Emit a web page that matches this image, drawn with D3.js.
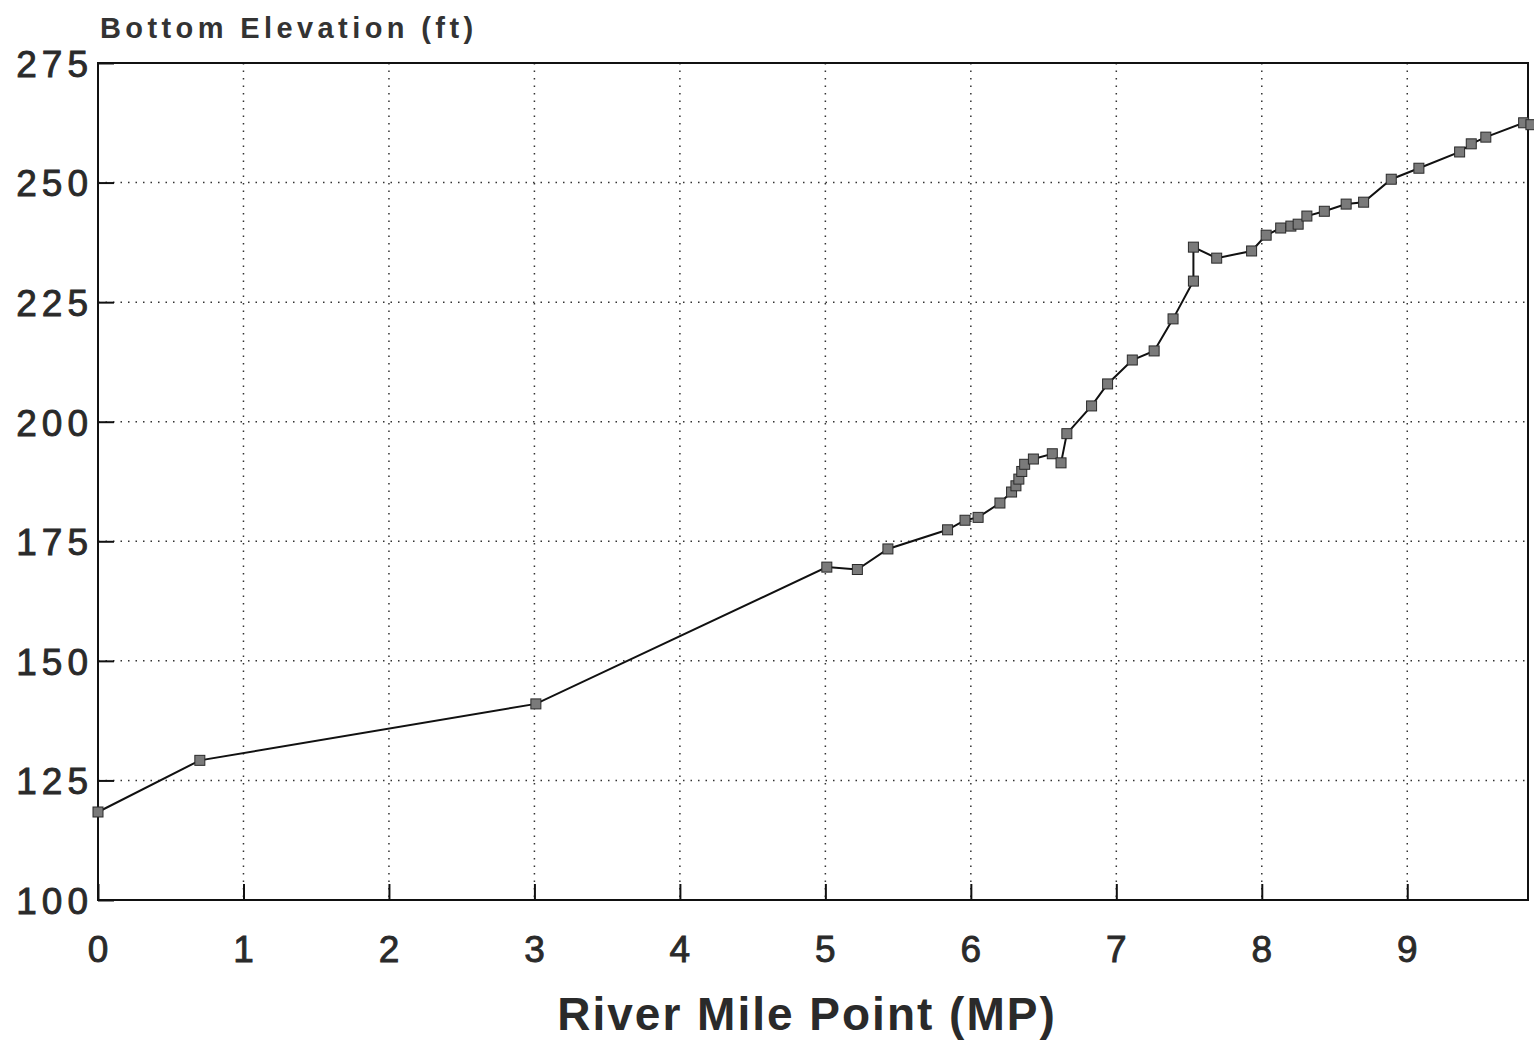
<!DOCTYPE html>
<html>
<head>
<meta charset="utf-8">
<script src="https://cdn.jsdelivr.net/npm/d3@7"></script>
<style>
  body { margin: 0; background: #fff; }
  svg { display: block; }
  .tick text { font-family: "Liberation Sans", Arial, sans-serif; }
</style>
</head>
<body>
<div id="chart"></div>
<script>
// River mile point vs bottom elevation
const mile = [0, 0.70, 3.01, 5.01, 5.22, 5.43, 5.84, 5.96, 6.05, 6.20, 6.28, 6.31, 6.33, 6.35, 6.37,
    6.43, 6.56, 6.62, 6.66, 6.83, 6.94, 7.11, 7.26, 7.39, 7.53, 7.53, 7.69, 7.93, 8.03, 8.13,
    8.20, 8.25, 8.31, 8.43, 8.58, 8.70, 8.89, 9.08, 9.36, 9.44, 9.54, 9.80, 9.85];
const elev = [118.4, 129.2, 141.0, 169.6, 169.1, 173.4, 177.4, 179.4, 180.0, 183.0, 185.3, 186.6, 188.0, 189.6, 191.1,
    192.2, 193.3, 191.4, 197.5, 203.3, 207.9, 212.9, 214.8, 221.5, 229.4, 236.5, 234.2, 235.7, 239.0, 240.5,
    240.9, 241.3, 243.0, 244.0, 245.5, 245.9, 250.7, 253.0, 256.4, 258.1, 259.5, 262.5, 262.1];
const xTicks = [0, 1, 2, 3, 4, 5, 6, 7, 8, 9];
const yTicks = [100, 125, 150, 175, 200, 225, 250, 275];

const data = mile.map((m, i) => ({ mile: m, elev: elev[i] }));

const W = 1534, H = 1042;
const margin = { top: 63, right: 6, bottom: 142, left: 98 };
const width = W - margin.left - margin.right;
const height = H - margin.top - margin.bottom;

const svg = d3.select("#chart").append("svg")
    .attr("width", W)
    .attr("height", H);

const g = svg.append("g")
    .attr("transform", "translate(" + margin.left + "," + margin.top + ")");

const x = d3.scaleLinear().domain([0, 9.83]).range([0, width]);
const y = d3.scaleLinear().domain([100, 275]).range([height, 0]);

// dotted grid
g.append("g")
    .selectAll("line")
    .data(xTicks.filter(d => d > 0))
    .enter().append("line")
    .attr("x1", d => x(d)).attr("x2", d => x(d))
    .attr("y1", 0).attr("y2", height)
    .attr("stroke", "#333")
    .attr("stroke-width", 1.5)
    .attr("stroke-dasharray", "1.5,6");

g.append("g")
    .selectAll("line")
    .data(yTicks.filter(d => d > 100 && d < 275))
    .enter().append("line")
    .attr("x1", 0).attr("x2", width)
    .attr("y1", d => y(d)).attr("y2", d => y(d))
    .attr("stroke", "#333")
    .attr("stroke-width", 1.5)
    .attr("stroke-dasharray", "1.5,6");

// axes with inward ticks
const xAxis = g.append("g")
    .attr("transform", "translate(0," + height + ")")
    .call(d3.axisBottom(x).tickValues(xTicks).tickSizeInner(-16).tickSizeOuter(0).tickPadding(40).tickFormat(d3.format("d")));

const yAxis = g.append("g")
    .call(d3.axisLeft(y).tickValues(yTicks).tickSizeInner(-16).tickSizeOuter(0).tickPadding(5).tickFormat(d3.format("d")));

[xAxis, yAxis].forEach(a => {
    a.select(".domain").remove();
    a.selectAll(".tick line").attr("stroke", "#111").attr("stroke-width", 2);
    a.selectAll(".tick text")
        .attr("fill", "#2a2a2a")
        .attr("stroke", "#2a2a2a")
        .attr("stroke-width", 0.9)
        .style("font-size", "37px")
        .style("letter-spacing", "5px");
});
xAxis.selectAll(".tick text").attr("dy", "0.6em").attr("dx", "2px");
yAxis.selectAll(".tick text").attr("dy", "0.36em");

// frame
g.append("rect")
    .attr("x", 0).attr("y", 0)
    .attr("width", width).attr("height", height)
    .attr("fill", "none")
    .attr("stroke", "#111")
    .attr("stroke-width", 2);

// profile line
const line = d3.line()
    .x(d => x(d.mile))
    .y(d => y(d.elev));

g.append("path")
    .datum(data)
    .attr("fill", "none")
    .attr("stroke", "#111")
    .attr("stroke-width", 2)
    .attr("d", line);

// square markers
g.selectAll("rect.pt")
    .data(data)
    .enter().append("rect")
    .attr("class", "pt")
    .attr("x", d => x(d.mile) - 5)
    .attr("y", d => y(d.elev) - 5)
    .attr("width", 10)
    .attr("height", 10)
    .attr("fill", "#7a7a7a")
    .attr("stroke", "#2a2a2a")
    .attr("stroke-width", 1);

// titles
svg.append("text")
    .attr("x", 100)
    .attr("y", 38)
    .attr("fill", "#333")
    .style("font-family", "Liberation Sans, Arial, sans-serif")
    .style("font-size", "29px")
    .style("font-weight", "bold")
    .style("letter-spacing", "4.4px")
    .text("Bottom Elevation (ft)");

svg.append("text")
    .attr("x", 807)
    .attr("y", 1030)
    .attr("text-anchor", "middle")
    .attr("fill", "#2a2a2a")
    .style("font-family", "Liberation Sans, Arial, sans-serif")
    .style("font-size", "46px")
    .style("font-weight", "bold")
    .style("letter-spacing", "2px")
    .text("River Mile Point (MP)");
</script>
</body>
</html>
